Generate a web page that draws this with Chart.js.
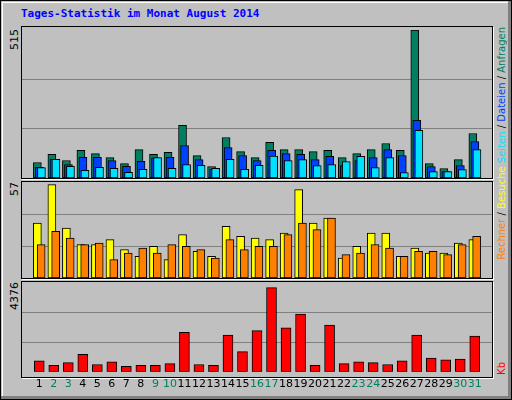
<!DOCTYPE html>
<html>
<head>
<meta charset="utf-8">
<script src="https://cdn.jsdelivr.net/npm/chart.js@4"></script>
<style>
body { margin: 0; }
#frame { position: relative; width: 510px; height: 398px; background: #c0c0c0; border: 1px solid #000; overflow: hidden; }
#frame:before { content: ''; position: absolute; left: 1px; top: 1px; right: 3px; bottom: 3px; border-left: 1px solid #fff; border-top: 1px solid #fff; }
#frame:after { content: ''; position: absolute; left: 0; right: 0; bottom: 0; height: 3px; background: #808080; }
.edge { position: absolute; top: 0; right: 0; width: 3px; height: 100%; background: #808080; }
.panel { position: absolute; left: 20px; width: 470px; border: 1px solid #000; box-shadow: 1px 1px 0 #fff; }
canvas { position: absolute; }
#title { position: absolute; left: 20px; top: 6px; font: bold 11px "DejaVu Sans Mono", monospace; color: #0000ff; }
.vl { position: absolute; writing-mode: vertical-rl; transform: rotate(180deg); font: 11px "DejaVu Sans", sans-serif; white-space: nowrap; }
</style>
</head>
<body>
<div id="frame">
  <div class="edge"></div>
  <div id="title">Tages-Statistik im Monat August 2014</div>
  <div class="panel" style="top:25px;height:151px"></div>
  <div class="panel" style="top:180px;height:96px"></div>
  <div class="panel" style="top:280px;height:95px"></div>
  <div class="vl" style="left:7px;top:28px;color:#000">515</div>
  <div class="vl" style="left:7px;top:181px;color:#000">57</div>
  <div class="vl" style="left:7px;top:281px;color:#000">4376</div>
  <div class="vl" style="left:495px;top:26px;font-size:10px"><span style="color:#ff8000">Rechner</span> / <span style="color:#ffff00">Besuche</span> <span style="color:#00e0ff">Seiten</span> / <span style="color:#0040ff">Dateien</span> / <span style="color:#008060">Anfragen</span></div>
  <div class="vl" style="left:495px;top:361px;color:#ff0000;font-size:10px">Kb</div>
  <canvas id="c1" style="left:21px;top:26px" width="470" height="151"></canvas>
  <canvas id="c2" style="left:21px;top:181px" width="470" height="96"></canvas>
  <canvas id="c3" style="left:21px;top:281px" width="470" height="119"></canvas>
</div>
<script>
// Tage im August 2014
const days = Array.from({ length: 31 }, (_, i) => i + 1);
const weekendDays = [2, 3, 9, 10, 16, 17, 23, 24, 30, 31];

const hits = [54, 82, 61, 96, 85, 71, 50, 99, 82, 89, 183, 78, 40, 141, 92, 71,
  124, 99, 99, 92, 96, 71, 85, 99, 120, 96, 515, 50, 33, 64, 155];
const files = [37, 65, 47, 72, 72, 61, 41, 58, 70, 72, 113, 64, 30, 106, 78, 61,
  96, 85, 82, 64, 75, 43, 61, 71, 99, 78, 201, 40, 22, 43, 127];
const pages = [36, 65, 41, 27, 37, 34, 20, 30, 71, 34, 47, 44, 34, 65, 30, 44,
  76, 61, 64, 43, 47, 57, 75, 36, 71, 19, 166, 22, 22, 29, 99];

const visits = [33, 56, 30, 20, 20, 23, 17, 13, 19, 11, 26, 16, 13, 31, 25, 24,
  23, 27, 53, 33, 36, 12, 19, 27, 27, 13, 18, 15, 15, 21, 23];
const sites = [20, 28, 24, 20, 21, 11, 15, 18, 15, 20, 19, 17, 12, 23, 17, 19,
  19, 26, 33, 29, 36, 14, 15, 20, 18, 13, 16, 16, 14, 20, 25];

const kbytes = [540, 316, 450, 857, 360, 496, 270, 316, 316, 406, 1940, 360, 316, 1805, 993, 2030,
  4150, 2166, 2843, 316, 2300, 406, 496, 450, 360, 540, 1805, 677, 587, 632, 1760];

const maxTop = 515, maxMid = 57, maxBot = 4376;

function pts(values, shift) {
  return values.map((v, i) => ({ x: days[i] + shift, y: v }));
}

function bars(values, shift, color, width) {
  return {
    data: pts(values, shift),
    backgroundColor: color,
    borderColor: '#000',
    borderWidth: 1,
    borderSkipped: false,
    barThickness: width,
    grouped: false
  };
}

function makeChart(id, datasets, max, showDays, padTop) {
  new Chart(document.getElementById(id), {
    type: 'bar',
    data: { datasets: datasets },
    options: {
      responsive: false,
      animation: false,
      events: [],
      layout: { padding: { top: padTop, bottom: showDays ? 4 : 0 } },
      plugins: { legend: { display: false }, tooltip: { enabled: false } },
      scales: {
        x: {
          type: 'linear',
          min: 1 - 2 / 3,
          max: 31 + 2 / 3,
          display: showDays,
          border: { display: false },
          grid: { display: false, drawTicks: false },
          afterBuildTicks: s => { s.ticks = days.map(d => ({ value: d })); },
          ticks: {
            padding: 6,
            autoSkip: false,
            maxRotation: 0,
            minRotation: 0,
            font: { family: 'DejaVu Sans', size: 11 },
            color: c => weekendDays.includes(c.tick.value) ? '#008060' : '#000'
          }
        },
        y: {
          min: 0,
          max: max,
          display: true,
          border: { display: false },
          afterBuildTicks: s => { s.ticks = [{ value: max / 3 }, { value: 2 * max / 3 }]; },
          ticks: { display: false },
          grid: { color: '#808080', lineWidth: 1, drawTicks: false }
        }
      }
    }
  });
}

makeChart('c1', [
  bars(pages, 0.15, '#00e0ff', 8),
  bars(files, 0.01, '#0040ff', 8),
  bars(hits, -0.13, '#008060', 8)
], maxTop, false, 3);

makeChart('c2', [
  bars(sites, 0.13, '#ff8000', 8),
  bars(visits, -0.13, '#ffff00', 8)
], maxMid, false, 1);

makeChart('c3', [
  bars(kbytes, 0, '#ff0000', 10)
], maxBot, true, 1);
</script>
</body>
</html>
